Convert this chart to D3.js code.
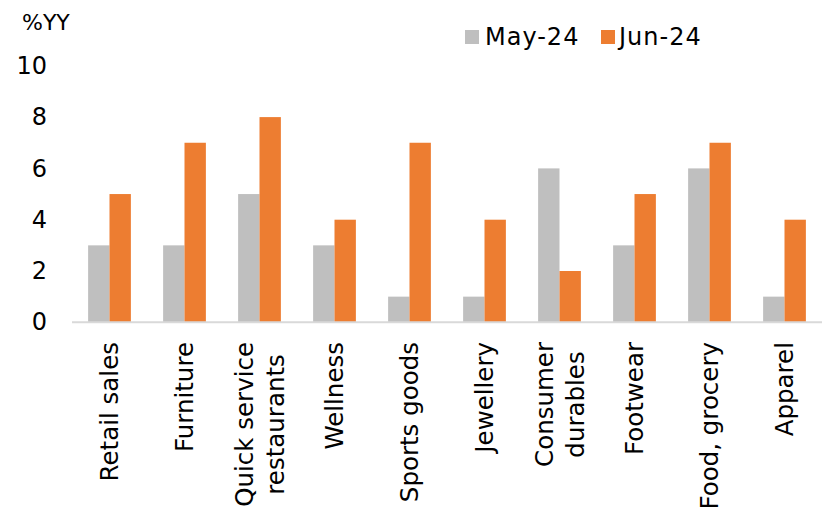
<!DOCTYPE html>
<html><head><meta charset="utf-8">
<script src="https://cdn.jsdelivr.net/npm/d3@7"></script>
<style>body{margin:0;background:#fff}svg{display:block}text{font-family:"DejaVu Sans",sans-serif}</style>
</head><body>
<svg id="c" width="825" height="513"></svg>
<script>
const categories = [["Retail sales"],["Furniture"],["Quick service","restaurants"],["Wellness"],["Sports goods"],["Jewellery"],["Consumer","durables"],["Footwear"],["Food, grocery"],["Apparel"]];
const may24 = [3,3,5,3,1,1,6,3,6,1];
const jun24 = [5,7,8,4,7,4,2,5,7,4];
const seriesNames = ["May-24","Jun-24"];
const colors = ["#bfbfbf","#ed7d31"];
const yTicks = [0,2,4,6,8,10];

const svg = d3.select("#c");
const x0 = d3.scaleBand().domain(d3.range(categories.length)).range([72,822]).paddingInner(0.43).paddingOuter(0.215);
const x1 = d3.scaleBand().domain([0,1]).range([0,x0.bandwidth()]);
const y = d3.scaleLinear().domain([0,10]).range([322.3,65.8]);

const series = [may24, jun24];
const g = svg.append("g");
series.forEach((vals,s)=>{
  g.selectAll(".b"+s).data(vals).enter().append("rect")
    .attr("x",(d,i)=>x0(i)+x1(s)).attr("width",x1.bandwidth())
    .attr("y",d=>y(d)).attr("height",d=>y(0)-y(d)).attr("fill",colors[s]);
});
// axis line
svg.append("line").attr("x1",72).attr("x2",822).attr("y1",y(0)).attr("y2",y(0)).attr("stroke","#d9d9d9").attr("stroke-width",2);
// y ticks
const yAxis = d3.axisLeft(y).tickValues(yTicks).tickSize(0).tickPadding(0);
const ya = svg.append("g").attr("transform","translate(47,0)").call(yAxis);
ya.select(".domain").remove();
ya.selectAll("text").attr("font-size",24).attr("fill","#000").attr("font-family","DejaVu Sans");
// y label
svg.append("text").attr("x",22).attr("y",30).attr("font-size",22).text("%YY");
// category labels
const fs = 24.5;
categories.forEach((lines,i)=>{
  const cx = x0(i)+x0.bandwidth()/2;
  const tmp = lines.map(l=>svg.append("text").attr("font-size",fs).text(l));
  const lens = tmp.map(t=>t.node().getComputedTextLength());
  tmp.forEach(t=>t.remove());
  const maxLen = d3.max(lens);
  const lh = 31;
  const n = lines.length;
  lines.forEach((l,k)=>{
    const xc = cx + (k-(n-1)/2)*lh;
    const yc = 342 + maxLen/2;
    svg.append("text").attr("font-size",fs).attr("text-anchor","middle").attr("dominant-baseline","central")
      .attr("transform",`translate(${xc},${yc}) rotate(-90)`).text(l);
  });
});
// legend
const leg = [[465,485],[601,619]];
seriesNames.forEach((nm,s)=>{
  svg.append("rect").attr("x",leg[s][0]).attr("y",30).attr("width",14).attr("height",14).attr("fill",colors[s]);
  svg.append("text").attr("x",leg[s][1]).attr("y",45).attr("font-size",24).attr("letter-spacing",1).text(nm);
});
</script>
</body></html>
